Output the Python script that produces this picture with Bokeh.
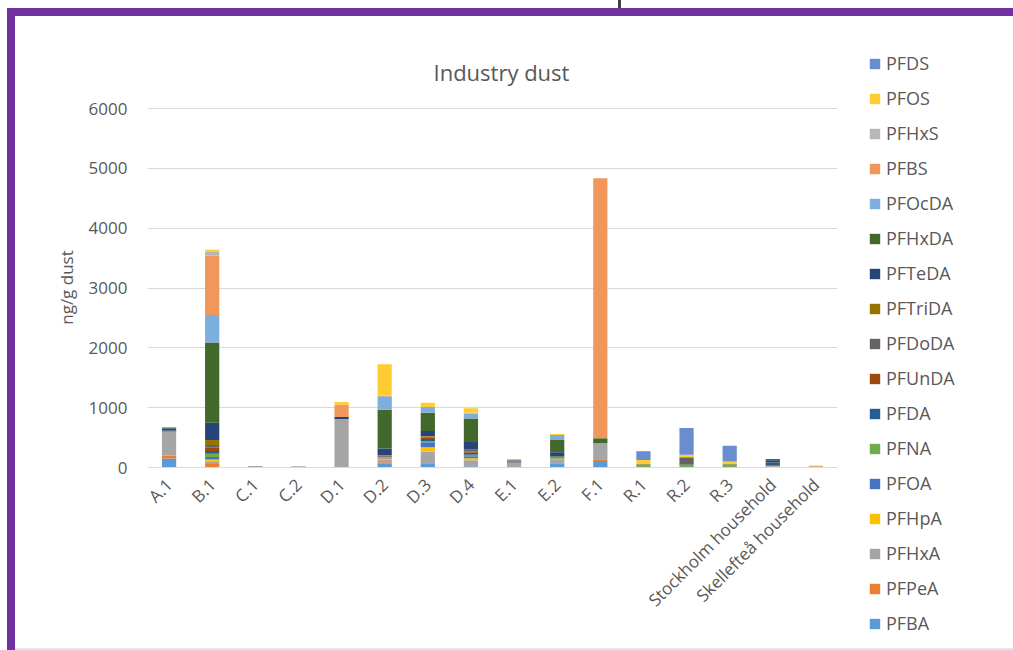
import math
from bokeh.plotting import figure
from bokeh.models import (FactorRange, Range1d, Legend, LegendItem, ColumnDataSource,
                          FixedTicker, Spacer)
from bokeh.layouts import row, column
from bokeh.embed import file_html
from bokeh.resources import INLINE

categories = ["A.1", "B.1", "C.1", "C.2", "D.1", "D.2", "D.3", "D.4", "E.1", "E.2", "F.1",
              "R.1", "R.2", "R.3", "Stockholm household", "Skellefteå household"]

# stacking order: bottom -> top
series_names = ["PFBA", "PFPeA", "PFHxA", "PFHpA", "PFOA", "PFNA", "PFDA", "PFUnDA", "PFDoDA",
                "PFTriDA", "PFTeDA", "PFHxDA", "PFOcDA", "PFBS", "PFHxS", "PFOS", "PFDS"]

PFBA    = [150, 10, 0, 0, 0, 72, 72, 20, 0, 72, 110, 0, 0, 0, 0, 0]
PFPeA   = [50, 50, 0, 0, 0, 15, 0, 0, 10, 0, 28, 0, 0, 0, 15, 0]
PFHxA   = [400, 45, 25, 20, 810, 40, 195, 100, 72, 55, 268, 0, 0, 0, 13, 0]
PFHpA   = [0, 30, 0, 0, 0, 25, 72, 33, 0, 10, 0, 0, 0, 0, 0, 0]
PFOA    = [0, 40, 0, 0, 0, 15, 83, 35, 0, 10, 0, 0, 0, 0, 0, 0]
PFNA    = [0, 55, 0, 0, 0, 10, 22, 25, 0, 10, 0, 35, 45, 33, 0, 0]
PFDA    = [20, 45, 0, 0, 0, 0, 33, 35, 20, 10, 0, 0, 0, 0, 55, 0]
PFUnDA  = [0, 55, 0, 0, 0, 10, 20, 20, 0, 5, 0, 0, 0, 0, 0, 0]
PFDoDA  = [0, 45, 0, 0, 0, 10, 20, 35, 20, 5, 0, 20, 128, 22, 0, 17]
PFTriDA = [0, 85, 0, 0, 0, 10, 10, 0, 0, 5, 0, 0, 0, 0, 0, 0]
PFTeDA  = [30, 290, 0, 0, 35, 110, 83, 123, 0, 72, 0, 0, 0, 0, 40, 0]
PFHxDA  = [10, 1340, 0, 0, 0, 650, 305, 395, 0, 205, 83, 0, 0, 0, 17, 0]
PFOcDA  = [15, 460, 0, 0, 0, 210, 95, 83, 0, 83, 0, 0, 0, 0, 0, 0]
PFBS    = [0, 990, 0, 0, 205, 0, 0, 0, 15, 0, 4345, 0, 0, 0, 0, 0]
PFHxS   = [0, 60, 0, 0, 0, 28, 0, 10, 0, 0, 0, 0, 0, 0, 0, 0]
PFOS    = [0, 40, 0, 0, 45, 520, 72, 78, 0, 17, 0, 70, 40, 45, 0, 15]
PFDS    = [0, 0, 0, 0, 0, 0, 0, 0, 0, 0, 0, 145, 446, 262, 0, 0]

series_values = [PFBA, PFPeA, PFHxA, PFHpA, PFOA, PFNA, PFDA, PFUnDA, PFDoDA,
                 PFTriDA, PFTeDA, PFHxDA, PFOcDA, PFBS, PFHxS, PFOS, PFDS]

colors = ["#5B9BD5", "#ED7D31", "#A5A5A5", "#FFC000", "#4472C4", "#70AD47", "#255E91",
          "#9E480E", "#636363", "#997300", "#264478", "#43682B", "#7CAFDD", "#F1975A",
          "#B7B7B7", "#FFCD33", "#698ED0"]

y_ticks = [0, 1000, 2000, 3000, 4000, 5000, 6000]

FONT = "Open Sans"
TXT = "#595959"
GRID = "#D9D9D9"
PURPLE = "#7030A0"

data = dict(cat=categories)
for n, v in zip(series_names, series_values):
    data[n] = v
source = ColumnDataSource(data=data)

# ---- main chart ----
p = figure(x_range=FactorRange(*categories, range_padding=0), y_range=Range1d(0, 6017),
           width=827, height=632, output_backend="svg", toolbar_location=None,
           min_border_left=132, min_border_right=5, min_border_top=91, min_border_bottom=181,
           title="Industry dust")
p.background_fill_color = "white"
p.border_fill_color = "white"
p.outline_line_color = None
p.frame_align = False

renderers = p.vbar_stack(series_names, x="cat", width=0.33, fill_color=colors,
                         line_color=None, source=source)

p.title.align = "left"
p.title.offset = 286
p.title.text_font = FONT
p.title.text_font_size = "22px"
p.title.text_font_style = "normal"
p.title.text_color = TXT
p.title.standoff = 41

p.yaxis.ticker = FixedTicker(ticks=y_ticks)
p.ygrid.ticker = FixedTicker(ticks=y_ticks)
p.ygrid.grid_line_color = GRID
p.xgrid.grid_line_color = None
p.yaxis.axis_line_color = None
p.yaxis.major_tick_line_color = None
p.yaxis.minor_tick_line_color = None
p.yaxis.major_label_text_font = FONT
p.yaxis.major_label_text_font_size = "17px"
p.yaxis.major_label_text_color = TXT
p.yaxis.major_label_standoff = 14
p.yaxis.axis_label = "ng/g dust"
p.yaxis.axis_label_text_font = FONT
p.yaxis.axis_label_text_font_size = "17px"
p.yaxis.axis_label_text_font_style = "normal"
p.yaxis.axis_label_text_color = TXT
p.yaxis.axis_label_standoff = 8

p.xaxis.axis_line_color = GRID
p.xaxis.axis_line_width = 1
p.xaxis.major_tick_line_color = None
p.xaxis.minor_tick_line_color = None
p.xaxis.major_label_orientation = math.pi / 4
p.xaxis.major_label_text_font = FONT
p.xaxis.major_label_text_font_size = "17px"
p.xaxis.major_label_text_color = TXT
p.xaxis.major_label_standoff = 8

# ---- legend panel (separate canvas so it is not clipped) ----
# same stacked series with zero bar width: only the legend keys show
lg = figure(width=171, height=632, output_backend="svg", toolbar_location=None,
            x_range=FactorRange(*categories, range_padding=0), y_range=Range1d(0, 6017),
            x_axis_location=None, y_axis_location=None,
            min_border=0, min_border_left=0, min_border_right=0,
            min_border_top=0, min_border_bottom=0)
lg.frame_align = False
lg.outline_line_color = None
lg.xgrid.grid_line_color = None
lg.ygrid.grid_line_color = None
lg.background_fill_color = "white"
lg.border_fill_color = "white"

key_renderers = lg.vbar_stack(series_names, x="cat", width=0, fill_color=colors,
                              line_color=None, source=source)

items = [LegendItem(label=n, renderers=[r])
         for n, r in reversed(list(zip(series_names, key_renderers)))]
legend = Legend(items=items, location=(26, 13))
legend.padding = 0
legend.margin = 0
legend.border_line_color = None
legend.background_fill_alpha = 0
legend.label_text_font = FONT
legend.label_text_font_size = "18px"
legend.label_text_color = TXT
legend.glyph_width = 13
legend.glyph_height = 13
legend.label_height = 24
legend.label_standoff = 5
legend.spacing = 11
lg.add_layout(legend)

top_row = row(Spacer(width=618, height=8),
              Spacer(width=3, height=8, styles={"background-color": "#404040"}),
              Spacer(width=392, height=8))
inner = column(
    Spacer(width=1006, height=8, styles={"background-color": PURPLE}),
    row(Spacer(width=8, height=634, styles={"background-color": PURPLE}),
        column(row(p, lg), Spacer(width=998, height=2, styles={"background-color": "#E6E2EE"}))),
)
layout = column(top_row, row(Spacer(width=7, height=642), inner))

open("out.html", "w").write(file_html(layout, INLINE))
